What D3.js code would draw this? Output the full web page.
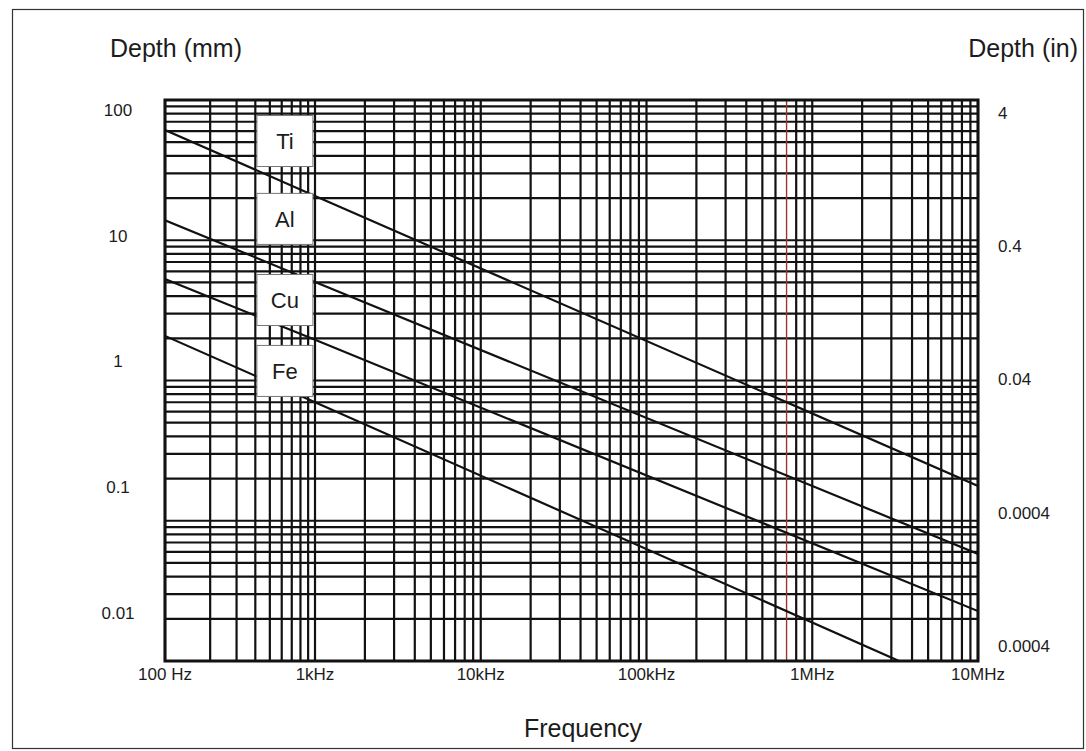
<!DOCTYPE html>
<html>
<head>
<meta charset="utf-8">
<script src="https://cdn.jsdelivr.net/npm/d3@7/dist/d3.min.js"></script>
<style>
body { margin: 0; background: #fff; }
text { font-family: "Liberation Sans", Arial, sans-serif; fill: #1c1c1c; }
</style>
</head>
<body>
<div id="viz"></div>
<script>
// values
var frequencies = [100, 1000, 10000000];
var depthTi = [61, 20.7, 0.177];
var depthAl = [13.9, 5.04, 0.058];
var depthCu = [5.29, 1.95, 0.0227];
var depthFe = [2.08, 0.70, 0.00563];

var metals = ["Ti", "Al", "Cu", "Fe"];
var metalLabelFreq = [630, 630, 630, 630];
var metalLabelDepth = [51, 14.2, 3.75, 1.17];

var freqTicks = [100, 1e3, 1e4, 1e5, 1e6, 1e7];
var freqTickLabels = ["100 Hz", "1kHz", "10kHz", "100kHz", "1MHz", "10MHz"];
var mmTicks = [100, 10, 1, 0.1, 0.01];
var mmTickLabels = ["100", "10", "1", "0.1", "0.01"];
var inTicks = [4, 0.4, 0.04, 0.004, 0.0004];
var inTickLabels = ["4", "0.4", "0.04", "0.0004", "0.0004"];
var markedFreq = 700000;

var width = 1086,
    height = 751,
    plotLeft = 165,
    plotRight = 978,
    plotTop = 100,
    plotBottom = 661;

// first decade of the printed grid is narrower than the rest
var xScale = d3.scaleLog()
    .domain([100, 1000, 1e7])
    .range([plotLeft, 315, plotRight]);

var yScale = d3.scaleLog()
    .domain([100, 0.01])
    .range([plotTop, plotBottom]);

// tick labels on the original sit on their own spacing, not on the grid decades
var mmLabelScale = d3.scaleLog()
    .domain([100, 0.01])
    .range([110, 613]);

var inLabelScale = d3.scaleLog()
    .domain([4, 0.0004])
    .range([113, 646]);

var svg = d3.select('#viz').append('svg')
    .attr('width', width)
    .attr('height', height)
    .style('background', '#fff');

// outer frame
svg.append('rect')
    .attr('x', 12.5)
    .attr('y', 9.5)
    .attr('width', 1071)
    .attr('height', 739)
    .attr('fill', 'none')
    .attr('stroke', '#333')
    .attr('stroke-width', 1.2);

svg.append('clipPath').attr('id', 'plotClip')
  .append('rect')
    .attr('x', plotLeft)
    .attr('y', plotTop)
    .attr('width', plotRight - plotLeft)
    .attr('height', plotBottom - plotTop);

// log grid
var vLines = [];
for (let d = 100; d < 1e7; d *= 10) {
    for (let m = 1; m < 10; m++) vLines.push(d * m);
}
vLines.push(1e7);

var hLines = [];
for (let d = 0.01; d < 99; d *= 10) {
    for (let m = 1; m < 10; m++) hLines.push(+(d * m).toPrecision(3));
}
hLines.push(100);

var grid = svg.append('g');

grid.selectAll('line.h').data(hLines)
    .enter().append('line')
    .attr('class', 'h')
    .attr('x1', plotLeft)
    .attr('x2', plotRight)
    .attr('y1', function(d) { return yScale(d); })
    .attr('y2', function(d) { return yScale(d); })
    .attr('stroke', '#111')
    .attr('stroke-width', 2.2);

grid.selectAll('line.v').data(vLines)
    .enter().append('line')
    .attr('class', 'v')
    .attr('x1', function(d) { return xScale(d); })
    .attr('x2', function(d) { return xScale(d); })
    .attr('y1', plotTop)
    .attr('y2', plotBottom)
    .attr('stroke', function(d) { return Math.abs(d - markedFreq) < 1 ? '#9a3a2c' : '#111'; })
    .attr('stroke-width', function(d) { return Math.abs(d - markedFreq) < 1 ? 1.4 : 2.2; });

svg.append('rect')
    .attr('x', plotLeft)
    .attr('y', plotTop)
    .attr('width', plotRight - plotLeft)
    .attr('height', plotBottom - plotTop)
    .attr('fill', 'none')
    .attr('stroke', '#111')
    .attr('stroke-width', 3);

// depth curves
var series = [depthTi, depthAl, depthCu, depthFe];

var line = d3.line()
    .x(function(d, i) { return xScale(frequencies[i]); })
    .y(function(d) { return yScale(d); });

svg.append('g')
    .attr('clip-path', 'url(#plotClip)')
  .selectAll('path').data(series)
    .enter().append('path')
    .attr('d', line)
    .attr('fill', 'none')
    .attr('stroke', '#111')
    .attr('stroke-width', 2.2);

// metal labels
var boxW = 56,
    boxH = 51;

var labels = svg.selectAll('g.metal').data(metals)
    .enter().append('g')
    .attr('class', 'metal')
    .attr('transform', function(d, i) {
        return 'translate(' + xScale(metalLabelFreq[i]) + ',' + yScale(metalLabelDepth[i]) + ')';
    });

labels.append('rect')
    .attr('x', -boxW / 2)
    .attr('y', -boxH / 2)
    .attr('width', boxW)
    .attr('height', boxH)
    .attr('fill', '#fff')
    .attr('stroke', '#777')
    .attr('stroke-width', 1);

labels.append('text')
    .attr('text-anchor', 'middle')
    .attr('dy', '0.36em')
    .style('font-size', '22px')
    .text(function(d) { return d; });

// axis tick labels
svg.selectAll('text.xt').data(freqTicks)
    .enter().append('text')
    .attr('class', 'xt')
    .attr('x', function(d) { return xScale(d); })
    .attr('y', 680)
    .attr('text-anchor', 'middle')
    .style('font-size', '17px')
    .text(function(d, i) { return freqTickLabels[i]; });

svg.selectAll('text.ml').data(mmTicks)
    .enter().append('text')
    .attr('class', 'ml')
    .attr('x', 118)
    .attr('y', function(d) { return mmLabelScale(d); })
    .attr('dy', '0.35em')
    .attr('text-anchor', 'middle')
    .style('font-size', '17px')
    .text(function(d, i) { return mmTickLabels[i]; });

svg.selectAll('text.il').data(inTicks)
    .enter().append('text')
    .attr('class', 'il')
    .attr('x', 998)
    .attr('y', function(d) { return inLabelScale(d); })
    .attr('dy', '0.35em')
    .style('font-size', '17px')
    .text(function(d, i) { return inTickLabels[i]; });

// titles
svg.append('text')
    .attr('x', 110)
    .attr('y', 57)
    .style('font-size', '25px')
    .text('Depth (mm)');

svg.append('text')
    .attr('x', 1078)
    .attr('y', 57)
    .attr('text-anchor', 'end')
    .style('font-size', '25px')
    .text('Depth (in)');

svg.append('text')
    .attr('x', 583)
    .attr('y', 737)
    .attr('text-anchor', 'middle')
    .style('font-size', '25px')
    .text('Frequency');
</script>
</body>
</html>
